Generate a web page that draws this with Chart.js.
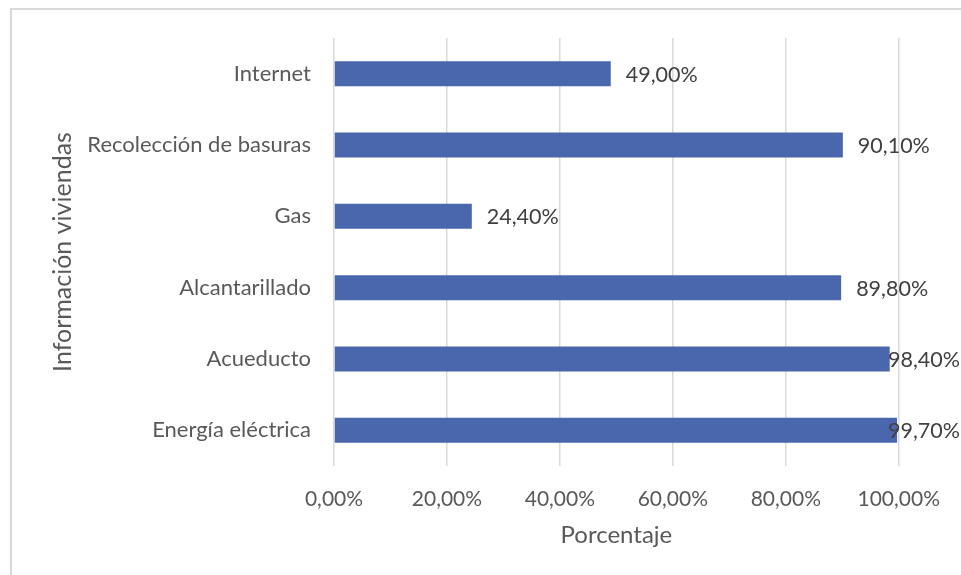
<!DOCTYPE html>
<html>
<head>
<meta charset="utf-8">
<script src="https://cdn.jsdelivr.net/npm/chart.js@4"></script>
<style>
  body { margin: 0; overflow: hidden; background: #fff; }
  #wrap { position: absolute; left: 0; top: 0; width: 961px; height: 575px; }
  #frame { position: absolute; left: 10px; top: 8px; width: 980px; height: 600px; border: 2px solid #d9d9d9; box-sizing: border-box; }
</style>
</head>
<body>
<div id="frame"></div>
<div id="wrap"><canvas id="myChart" width="961" height="575"></canvas></div>
<script>
const categories = ['Internet', 'Recolección de basuras', 'Gas', 'Alcantarillado', 'Acueducto', 'Energía eléctrica'];
const values = [49.0, 90.1, 24.4, 89.8, 98.4, 99.7];
const xTicks = [0, 20, 40, 60, 80, 100];

const fmt = (v) => v.toFixed(2).replace('.', ',') + '%';
const FONT = 'Lato, Calibri, Carlito, sans-serif';

// value labels to the right of every bar, pushed back in at the right edge
const barLabels = {
  id: 'barLabels',
  afterDatasetsDraw(chart) {
    const ctx = chart.ctx;
    const meta = chart.getDatasetMeta(0);
    ctx.save();
    ctx.font = '21.5px ' + FONT;
    ctx.fillStyle = '#404040';
    ctx.textBaseline = 'middle';
    ctx.textAlign = 'left';
    meta.data.forEach((bar, i) => {
      const text = fmt(values[i]);
      const w = ctx.measureText(text).width;
      let x = bar.x + 15;
      if (x + w > chart.width - 1) x = chart.width - 1 - w;
      ctx.fillText(text, x, bar.y + 1);
    });
    ctx.restore();
  }
};

const ctx = document.getElementById('myChart');
new Chart(ctx, {
  type: 'bar',
  data: {
    labels: categories,
    datasets: [{
      data: values,
      backgroundColor: '#4a66ac',
      borderWidth: 0,
      categoryPercentage: 1,
      barPercentage: 0.35
    }]
  },
  options: {
    indexAxis: 'y',
    responsive: false,
    animation: false,
    layout: { padding: { left: 48, right: 61, top: 38, bottom: 25 } },
    plugins: {
      legend: { display: false },
      tooltip: { enabled: false }
    },
    scales: {
      x: {
        min: 0,
        max: 100,
        afterBuildTicks: (scale) => { scale.ticks = xTicks.map(v => ({ value: v })); },
        afterFit: (scale) => { scale.height = 84; },
        grid: { color: '#d9d9d9', lineWidth: 1.5, drawTicks: false },
        border: { display: false },
        ticks: {
          padding: 21,
          color: '#595959',
          font: { family: FONT, size: 21 },
          callback: (v) => fmt(v)
        },
        title: {
          display: true,
          text: 'Porcentaje',
          color: '#595959',
          font: { family: FONT, size: 24 },
          padding: 0
        }
      },
      y: {
        afterFit: (scale) => { scale.width = 286; },
        grid: { display: false, drawTicks: false },
        border: { display: false },
        ticks: {
          padding: 23,
          color: '#595959',
          font: { family: FONT, size: 22 }
        },
        title: {
          display: true,
          text: 'Información viviendas',
          color: '#595959',
          font: { family: FONT, size: 25 },
          padding: 0
        }
      }
    }
  },
  plugins: [barLabels]
});
</script>
</body>
</html>
